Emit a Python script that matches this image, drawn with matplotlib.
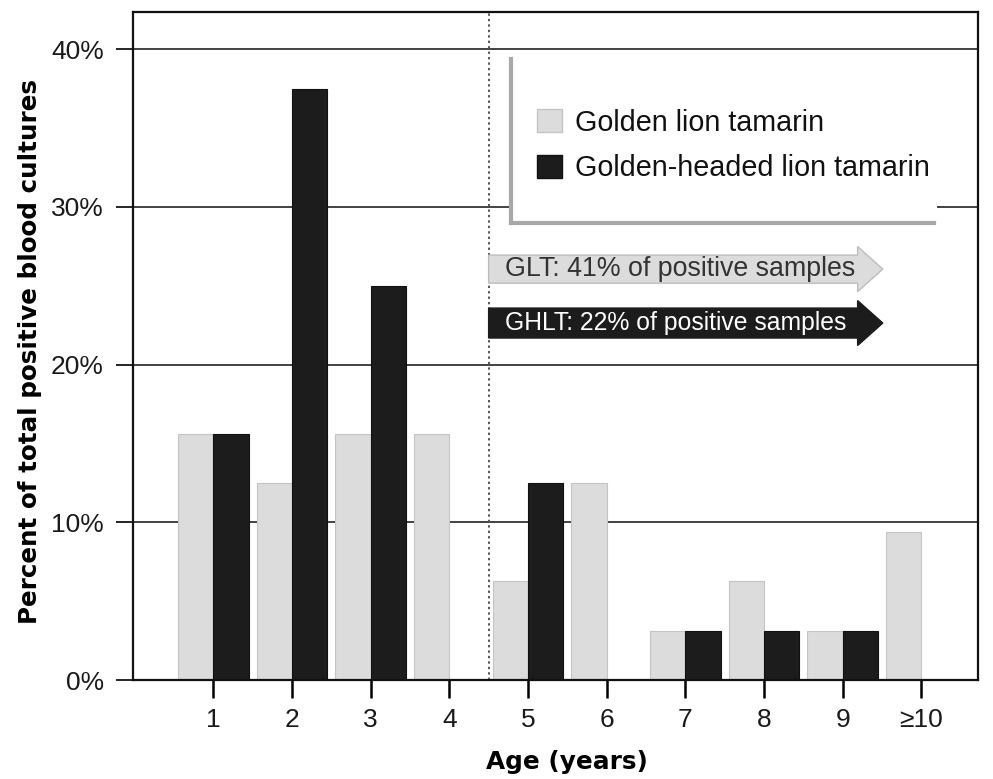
import matplotlib
matplotlib.use("Agg")
import matplotlib.pyplot as plt
from matplotlib.patches import FancyArrow, Rectangle
from matplotlib.lines import Line2D
import numpy as np

plt.rcParams['font.family'] = ['Liberation Sans', 'DejaVu Sans']

# ---- data ----
age_labels = ["1", "2", "3", "4", "5", "6", "7", "8", "9", "\u226510"]
glt = [15.6, 12.5, 15.6, 15.6, 6.25, 12.5, 3.1, 6.25, 3.1, 9.4]
ghlt = [15.6, 37.5, 25.0, 0.0, 12.5, 0.0, 3.1, 3.1, 3.1, 0.0]
series_names = ["Golden lion tamarin", "Golden-headed lion tamarin"]
arrow_texts = ["GLT: 41% of positive samples", "GHLT: 22% of positive samples"]
y_ticks = [0, 10, 20, 30, 40]

W, H = 993, 779
fig = plt.figure(figsize=(W / 100, H / 100), dpi=100)
ax = fig.add_axes([133 / W, 1 - 680 / H, (978 - 133) / W, (680 - 12) / H])

x = np.arange(1, len(age_labels) + 1)
bw = 0.45
glt_color = "#dcdcdc"
ghlt_color = "#1c1c1c"
ax.bar(x, glt, width=-bw, align="edge", color=glt_color, edgecolor="#c4c4c4",
       linewidth=0.8, zorder=2)
ax.bar(x, ghlt, width=bw, align="edge", color=ghlt_color, edgecolor="#111111",
       linewidth=0.8, zorder=2)

ax.set_xlim(-0.02, 10.72)
ax.set_ylim(0, 42.35)
ax.set_xticks(x)
ax.set_xticklabels(age_labels, fontsize=19)
ax.set_yticks(y_ticks)
ax.set_yticklabels([f"{v}%" for v in y_ticks], fontsize=19, color="#1a1a1a")
for lbl in ax.get_xticklabels():
    lbl.set_color("#1a1a1a")

ax.tick_params(axis="y", direction="out", length=12, width=1.2, pad=9)
ax.tick_params(axis="x", direction="out", length=13, width=1.8, pad=7)
ax.yaxis.grid(True, color="#222222", linewidth=1.2, zorder=0)
ax.set_axisbelow(True)
for s in ax.spines.values():
    s.set_linewidth(1.6)
    s.set_color("#111111")
    s.set_zorder(5)

ax.set_ylabel("Percent of total positive blood cultures", fontsize=17.7,
              fontweight="bold", family="DejaVu Sans")
ax.yaxis.set_label_coords(-0.108, 0.492)
ax.set_xlabel("Age (years)", fontsize=17.8, fontweight="bold",
              family="DejaVu Sans")
ax.xaxis.set_label_coords(0.514, -0.105)

# dotted separator between age 4 and 5
ax.axvline(4.5, color="#555555", linestyle=(0, (1.2, 1.6)), linewidth=1.4, zorder=3)

# legend box (white with grey shadow lines on left and bottom)
bx0, bx1, by0, by1 = 0.447, 0.951, 0.684, 0.930
ax.add_patch(Rectangle((bx0, by0), bx1 - bx0, by1 - by0, transform=ax.transAxes,
                       facecolor="white", edgecolor="none", zorder=3))
ax.add_line(Line2D([bx0, bx0], [by0, by1], transform=ax.transAxes,
                   color="#a8a8a8", linewidth=3, zorder=4))
ax.add_line(Line2D([bx0, bx1 - 0.003], [by0, by0], transform=ax.transAxes,
                   color="#a8a8a8", linewidth=3, zorder=4))

handles = [Rectangle((0, 0), 1, 1, facecolor=glt_color, edgecolor="#c4c4c4"),
           Rectangle((0, 0), 1, 1, facecolor=ghlt_color, edgecolor="#111111")]
leg = ax.legend(handles, series_names, loc="upper left",
                bbox_to_anchor=(0.478, 0.855), frameon=False, fontsize=20.7,
                handlelength=0.88, handleheight=0.85, handletextpad=0.45,
                labelspacing=0.6, borderpad=0, borderaxespad=0)
leg.set_zorder(6)
for t in leg.get_texts():
    t.set_color("#111111")

# annotation arrows
ax.add_patch(FancyArrow(4.5, 26.05, 5.01, 0, width=1.78, head_width=2.86,
                        head_length=0.32, length_includes_head=True,
                        facecolor="#dcdcdc", edgecolor="#bdbdbd", linewidth=1,
                        zorder=4))
ax.add_patch(FancyArrow(4.5, 22.63, 5.01, 0, width=1.9, head_width=2.85,
                        head_length=0.32, length_includes_head=True,
                        facecolor="#1c1c1c", edgecolor="#1c1c1c", linewidth=1,
                        zorder=4))
ax.text(4.71, 26.05, arrow_texts[0], fontsize=19.3, color="#333333",
        va="center", ha="left", zorder=5)
ax.text(4.71, 22.63, arrow_texts[1], fontsize=17.8, color="white",
        va="center", ha="left", zorder=5)

fig.savefig("out.png", dpi=100)
